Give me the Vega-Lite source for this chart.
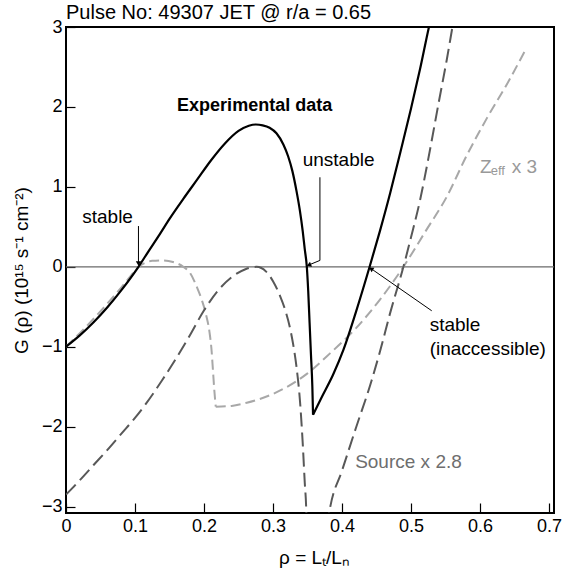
{
  "$schema": "https://vega.github.io/schema/vega-lite/v6.json",
  "width": 488,
  "height": 486,
  "autosize": {"type": "none"},
  "padding": {"left": 66, "top": 27, "right": 17, "bottom": 61},
  "config": {
    "font": "Liberation Sans",
    "view": {"stroke": "black", "strokeWidth": 2},
    "axis": {"grid": false, "domain": false, "labelColor": "black", "titleColor": "black", "tickColor": "black", "tickWidth": 1.2, "labelFontSize": 18, "titleFontSize": 19, "titleFontWeight": "normal", "labelOverlap": false, "labelFlush": false}
  },
  "title": {"text": "Pulse No: 49307 JET @ r/a = 0.65", "anchor": "start", "frame": "group", "fontSize": 20, "fontWeight": "normal", "color": "black", "offset": 0, "baseline": "alphabetic", "dy": 21},
  "datasets": {
    "zero": [{"x": 0, "y": 0}, {"x": 0.7072, "y": 0}],
    "exp": [
      {"b": 1, "x": 0, "y": -1}, {"b": 1, "x": 0.02, "y": -0.858}, {"b": 1, "x": 0.04, "y": -0.694}, {"b": 1, "x": 0.06, "y": -0.506}, {"b": 1, "x": 0.08, "y": -0.295},
      {"b": 1, "x": 0.105, "y": 0}, {"b": 1, "x": 0.12, "y": 0.2}, {"b": 1, "x": 0.136, "y": 0.41}, {"b": 1, "x": 0.15, "y": 0.6}, {"b": 1, "x": 0.17, "y": 0.85},
      {"b": 1, "x": 0.19, "y": 1.09}, {"b": 1, "x": 0.21, "y": 1.33}, {"b": 1, "x": 0.23, "y": 1.54}, {"b": 1, "x": 0.25, "y": 1.7}, {"b": 1, "x": 0.265, "y": 1.765},
      {"b": 1, "x": 0.275, "y": 1.78}, {"b": 1, "x": 0.285, "y": 1.77}, {"b": 1, "x": 0.295, "y": 1.74}, {"b": 1, "x": 0.305, "y": 1.67}, {"b": 1, "x": 0.315, "y": 1.53},
      {"b": 1, "x": 0.322, "y": 1.38}, {"b": 1, "x": 0.328, "y": 1.2}, {"b": 1, "x": 0.334, "y": 0.95}, {"b": 1, "x": 0.339, "y": 0.7}, {"b": 1, "x": 0.343, "y": 0.45},
      {"b": 1, "x": 0.346, "y": 0.22}, {"b": 1, "x": 0.349, "y": 0}, {"b": 1, "x": 0.351, "y": -0.3}, {"b": 1, "x": 0.353, "y": -0.7}, {"b": 1, "x": 0.355, "y": -1.1},
      {"b": 1, "x": 0.357, "y": -1.5}, {"b": 1, "x": 0.358, "y": -1.85},
      {"b": 2, "x": 0.358, "y": -1.85}, {"b": 2, "x": 0.37, "y": -1.64}, {"b": 2, "x": 0.387, "y": -1.35},
      {"b": 2, "x": 0.402, "y": -1.04}, {"b": 2, "x": 0.42, "y": -0.57}, {"b": 2, "x": 0.44, "y": 0}, {"b": 2, "x": 0.455, "y": 0.45}, {"b": 2, "x": 0.47, "y": 0.93},
      {"b": 2, "x": 0.485, "y": 1.45}, {"b": 2, "x": 0.5, "y": 1.98}, {"b": 2, "x": 0.513, "y": 2.47}, {"b": 2, "x": 0.526, "y": 3.0}, {"b": 2, "x": 0.53, "y": 3.15}
    ],
    "zeff": [
      {"b": 1, "x": 0, "y": -1}, {"b": 1, "x": 0.02, "y": -0.83}, {"b": 1, "x": 0.04, "y": -0.65}, {"b": 1, "x": 0.06, "y": -0.46}, {"b": 1, "x": 0.08, "y": -0.26},
      {"b": 1, "x": 0.095, "y": -0.1}, {"b": 1, "x": 0.105, "y": 0}, {"b": 1, "x": 0.115, "y": 0.05}, {"b": 1, "x": 0.125, "y": 0.075}, {"b": 1, "x": 0.14, "y": 0.08},
      {"b": 1, "x": 0.155, "y": 0.06}, {"b": 1, "x": 0.17, "y": 0}, {"b": 1, "x": 0.18, "y": -0.08}, {"b": 1, "x": 0.19, "y": -0.26}, {"b": 1, "x": 0.197, "y": -0.42},
      {"b": 1, "x": 0.203, "y": -0.6}, {"b": 1, "x": 0.208, "y": -0.82}, {"b": 1, "x": 0.211, "y": -1.05}, {"b": 1, "x": 0.213, "y": -1.3}, {"b": 1, "x": 0.215, "y": -1.55},
      {"b": 1, "x": 0.217, "y": -1.75},
      {"b": 2, "x": 0.217, "y": -1.75}, {"b": 2, "x": 0.24, "y": -1.74}, {"b": 2, "x": 0.262, "y": -1.7}, {"b": 2, "x": 0.3, "y": -1.59}, {"b": 2, "x": 0.349, "y": -1.34},
      {"b": 2, "x": 0.383, "y": -1.08}, {"b": 2, "x": 0.42, "y": -0.77}, {"b": 2, "x": 0.455, "y": -0.41}, {"b": 2, "x": 0.489, "y": 0}, {"b": 2, "x": 0.52, "y": 0.43},
      {"b": 2, "x": 0.552, "y": 0.88}, {"b": 2, "x": 0.58, "y": 1.38}, {"b": 2, "x": 0.61, "y": 1.86}, {"b": 2, "x": 0.64, "y": 2.3}, {"b": 2, "x": 0.665, "y": 2.7}
    ],
    "source": [
      {"b": 1, "x": 0, "y": -2.85}, {"b": 1, "x": 0.02, "y": -2.67}, {"b": 1, "x": 0.04, "y": -2.48}, {"b": 1, "x": 0.06, "y": -2.29},
      {"b": 1, "x": 0.08, "y": -2.09}, {"b": 1, "x": 0.1, "y": -1.89}, {"b": 1, "x": 0.117, "y": -1.7}, {"b": 1, "x": 0.14, "y": -1.41},
      {"b": 1, "x": 0.16, "y": -1.14}, {"b": 1, "x": 0.18, "y": -0.85}, {"b": 1, "x": 0.199, "y": -0.56}, {"b": 1, "x": 0.22, "y": -0.3},
      {"b": 1, "x": 0.24, "y": -0.13}, {"b": 1, "x": 0.26, "y": -0.03}, {"b": 1, "x": 0.276, "y": 0}, {"b": 1, "x": 0.29, "y": -0.06},
      {"b": 1, "x": 0.3, "y": -0.18}, {"b": 1, "x": 0.31, "y": -0.36}, {"b": 1, "x": 0.318, "y": -0.55}, {"b": 1, "x": 0.325, "y": -0.78},
      {"b": 1, "x": 0.329, "y": -0.96}, {"b": 1, "x": 0.334, "y": -1.25}, {"b": 1, "x": 0.339, "y": -1.67}, {"b": 1, "x": 0.343, "y": -2.2},
      {"b": 1, "x": 0.346, "y": -2.7}, {"b": 1, "x": 0.348, "y": -3.0}, {"b": 1, "x": 0.349, "y": -3.3},
      {"b": 2, "x": 0.378, "y": -3.25}, {"b": 2, "x": 0.383, "y": -3.0}, {"b": 2, "x": 0.4, "y": -2.55}, {"b": 2, "x": 0.42, "y": -2.02},
      {"b": 2, "x": 0.443, "y": -1.42}, {"b": 2, "x": 0.455, "y": -1.06}, {"b": 2, "x": 0.47, "y": -0.57}, {"b": 2, "x": 0.489, "y": 0},
      {"b": 2, "x": 0.5, "y": 0.37}, {"b": 2, "x": 0.513, "y": 0.83}, {"b": 2, "x": 0.525, "y": 1.35}, {"b": 2, "x": 0.54, "y": 2.05},
      {"b": 2, "x": 0.552, "y": 2.6}, {"b": 2, "x": 0.56, "y": 3.0}, {"b": 2, "x": 0.562, "y": 3.1}
    ],
    "arrows": [
      {"id": "a", "o": 1, "x": 0.105, "y": 0.51}, {"id": "a", "o": 2, "x": 0.105, "y": 0.06},
      {"id": "b", "o": 1, "x": 0.368, "y": 1.12}, {"id": "b", "o": 2, "x": 0.368, "y": 0.08}, {"id": "b", "o": 3, "x": 0.354, "y": 0.03},
      {"id": "c", "o": 1, "x": 0.53, "y": -0.55}, {"id": "c", "o": 2, "x": 0.445, "y": -0.04}
    ],
    "heads": [
      {"x": 0.105, "y": 0.05, "a": 180},
      {"x": 0.353, "y": 0.025, "a": 247},
      {"x": 0.443, "y": -0.03, "a": 302}
    ],
    "labels": [
      {"x": 0.0235, "y": 0.625, "t": "stable"},
      {"x": 0.343, "y": 1.33, "t": "unstable"},
      {"x": 0.527, "y": -0.73, "t": "stable"},
      {"x": 0.527, "y": -1.03, "t": "(inaccessible)"}
    ],
    "bold": [{"x": 0.161, "y": 2.01, "t": "Experimental data"}],
    "graybig": [
      {"x": 0.6, "y": 1.25, "t": "Z"},
      {"x": 0.646, "y": 1.25, "t": "x 3"}
    ],
    "graysmall": [{"x": 0.6155, "y": 1.2, "t": "eff"}],
    "srclab": [{"x": 0.419, "y": -2.44, "t": "Source x 2.8"}]
  },
  "encoding": {
    "x": {"field": "x", "type": "quantitative",
      "scale": {"domain": [0, 0.7072], "nice": false, "zero": false},
      "axis": {"values": [0, 0.1, 0.2, 0.3, 0.4, 0.5, 0.6, 0.7], "format": ".1~f", "tickSize": -10, "labelPadding": 14,
        "title": "ρ  = Lₜ/Lₙ", "titleX": 248, "titleY": 44, "titleBaseline": "middle"}},
    "y": {"field": "y", "type": "quantitative",
      "scale": {"domain": [-3.08, 3], "nice": false, "zero": false},
      "axis": {"values": [-3, -2, -1, 0, 1, 2, 3], "tickSize": -9, "labelPadding": 13,
        "title": "G (ρ) (10¹⁵ s⁻¹ cm⁻²)", "titleX": -45, "titleY": 243, "titleBaseline": "middle", "titleAlign": "center"}}
  },
  "layer": [
    {"data": {"name": "zero"}, "mark": {"type": "line", "color": "#6a6a6a", "strokeWidth": 1.3}},
    {"data": {"name": "zeff"}, "mark": {"type": "line", "color": "#a8a8a8", "strokeWidth": 2, "strokeDash": [10, 5], "clip": true, "interpolate": "monotone"},
      "encoding": {"detail": {"field": "b"}}},
    {"data": {"name": "source"}, "mark": {"type": "line", "color": "#585858", "strokeWidth": 2, "strokeDash": [14, 6], "clip": true, "interpolate": "monotone"},
      "encoding": {"detail": {"field": "b"}}},
    {"data": {"name": "exp"}, "mark": {"type": "line", "color": "black", "strokeWidth": 2.2, "clip": true, "interpolate": "monotone"},
      "encoding": {"detail": {"field": "b"}}},
    {"data": {"name": "arrows"}, "mark": {"type": "line", "color": "black", "strokeWidth": 1},
      "encoding": {"detail": {"field": "id"}, "order": {"field": "o"}}},
    {"data": {"name": "heads"}, "mark": {"type": "point", "shape": "triangle", "filled": true, "color": "black", "size": 28, "opacity": 1},
      "encoding": {"angle": {"field": "a", "type": "quantitative", "scale": null}}},
    {"data": {"name": "labels"}, "mark": {"type": "text", "align": "left", "baseline": "middle", "fontSize": 19, "color": "black"},
      "encoding": {"text": {"field": "t"}}},
    {"data": {"name": "bold"}, "mark": {"type": "text", "align": "left", "baseline": "middle", "fontSize": 18, "fontWeight": "bold", "color": "black"},
      "encoding": {"text": {"field": "t"}}},
    {"data": {"name": "graybig"}, "mark": {"type": "text", "align": "left", "baseline": "middle", "fontSize": 19, "color": "#999999"},
      "encoding": {"text": {"field": "t"}}},
    {"data": {"name": "graysmall"}, "mark": {"type": "text", "align": "left", "baseline": "middle", "fontSize": 13, "color": "#999999"},
      "encoding": {"text": {"field": "t"}}},
    {"data": {"name": "srclab"}, "mark": {"type": "text", "align": "left", "baseline": "middle", "fontSize": 19, "color": "#6e6e6e"},
      "encoding": {"text": {"field": "t"}}}
  ]
}
